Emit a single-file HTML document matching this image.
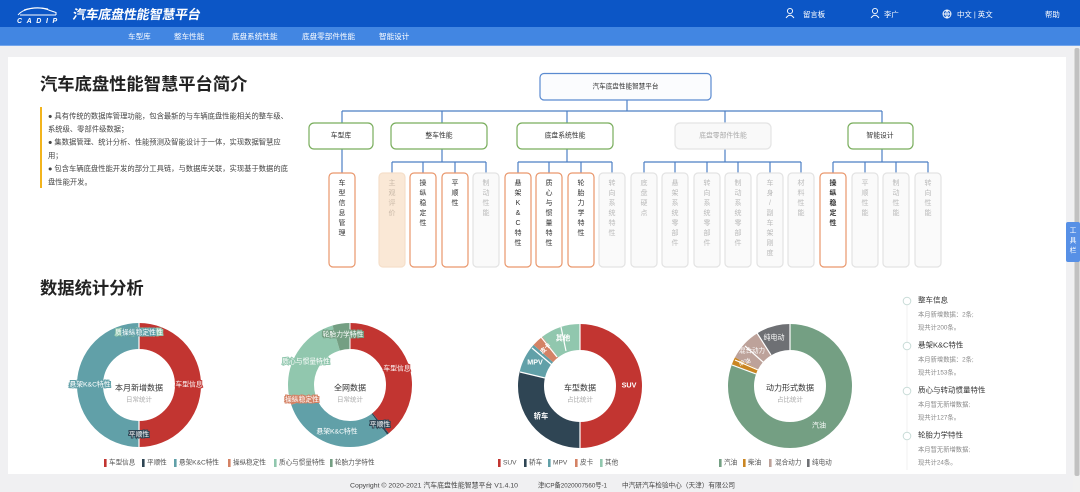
<!DOCTYPE html>
<html><head><meta charset="utf-8">
<style>
html,body{margin:0;padding:0;width:1080px;height:492px;overflow:hidden;background:#f0f0f2;}
svg{display:block;font-family:"Liberation Sans","Noto Sans CJK SC",sans-serif;}
</style></head>
<body>
<svg width="1080" height="492" viewBox="0 0 1080 492" xmlns="http://www.w3.org/2000/svg">
<!-- backgrounds -->
<rect x="0" y="0" width="1080" height="492" fill="#f0f0f2"/>
<rect x="0" y="0" width="1080" height="27" fill="#0c56c6"/>
<rect x="0" y="27" width="1080" height="19" fill="#4286e2"/>
<rect x="0" y="45" width="1080" height="1" fill="#74a6ec"/>
<rect x="8" y="57" width="1058" height="417" fill="#ffffff"/>
<rect x="1073" y="46" width="7" height="446" fill="#f1f1f1"/>
<rect x="1074.5" y="48" width="5" height="428" rx="2" fill="#c1c1c1"/>

<!-- header logo -->
<g stroke="#fff" fill="none" stroke-width="1">
<path d="M18 15 Q22 10 31 8.5 Q42 7 50 10.5 L56 12.5 L56 15"/>
<path d="M24 10 Q36 6 48 9"/>
<path d="M20 15 L56 15"/>
</g>
<text x="17" y="23" fill="#fff" font-size="7" font-weight="bold" font-style="italic" letter-spacing="4.6">CADIP</text>
<text x="72" y="19" fill="#fff" font-size="13" font-weight="bold" transform="skewX(-10) translate(3.4 0)" textLength="128">汽车底盘性能智慧平台</text>

<!-- nav -->
<g fill="#fff" font-size="7.6" dominant-baseline="central">
<text x="128" y="36.5">车型库</text>
<text x="174" y="36.5">整车性能</text>
<text x="232" y="36.5">底盘系统性能</text>
<text x="302" y="36.5">底盘零部件性能</text>
<text x="379" y="36.5">智能设计</text>
</g>

<!-- header right -->
<g stroke="#fff" fill="none" stroke-width="0.9">
<circle cx="790" cy="11" r="2.6"/><path d="M786 18 Q790 12.5 794 18"/>
<circle cx="875" cy="11" r="2.6"/><path d="M871 18 Q875 12.5 879 18"/>
<circle cx="947" cy="14" r="4"/><path d="M943 14 H951 M947 10 Q944.5 14 947 18 Q949.5 14 947 10"/>
</g>
<g fill="#fff" font-size="7.4" dominant-baseline="central">
<text x="803" y="14.5">留言板</text>
<text x="884" y="14.5">李广</text>
<text x="957" y="14.5">中文 | 英文</text>
<text x="1045" y="14.5">帮助</text>
</g>

<!-- intro -->
<text x="40" y="84" font-size="17.3" font-weight="bold" fill="#222" dominant-baseline="central">汽车底盘性能智慧平台简介</text>
<rect x="40" y="107" width="2" height="81" fill="#f2b41d"/>
<g font-size="7.3" fill="#444" dominant-baseline="central">
<text x="48" y="116">● 具有传统的数据库管理功能，包含最新的与车辆底盘性能相关的整车级、</text>
<text x="48" y="129">系统级、零部件级数据；</text>
<text x="48" y="142.2">● 集数据管理、统计分析、性能预测及智能设计于一体，实现数据智慧应</text>
<text x="48" y="155.4">用；</text>
<text x="48" y="168.6">● 包含车辆底盘性能开发的部分工具链，与数据库关联，实现基于数据的底</text>
<text x="48" y="181.8">盘性能开发。</text>
</g>

<!-- tree lines -->
<g stroke="#4c7fc4" stroke-width="1.2" fill="none">
<path d="M627 100 V111 M342 111 H882 M342 111 V123 M442 111 V123 M567 111 V123 M725 111 V123 M882 111 V123"/>
<path d="M342 149 V173"/>
<path d="M442 149 V162 M392 162 H486 M392 162 V173 M423 162 V173 M455 162 V173 M486 162 V173"/>
<path d="M567 149 V162 M518 162 H612 M518 162 V173 M549 162 V173 M581 162 V173 M612 162 V173"/>
<path d="M725 149 V162 M644 162 H801 M644 162 V173 M675 162 V173 M707 162 V173 M738 162 V173 M770 162 V173 M801 162 V173"/>
<path d="M882 149 V162 M833 162 H928 M833 162 V173 M865 162 V173 M896 162 V173 M928 162 V173"/>
</g>
<!-- root -->
<rect x="540" y="73.5" width="171" height="26.5" rx="4" fill="#fbfcfe" stroke="#5a8ad0" stroke-width="1.2"/>
<text x="625.5" y="87" font-size="6.6" fill="#333" text-anchor="middle" dominant-baseline="central">汽车底盘性能智慧平台</text>
<!-- level 2 -->
<g stroke-width="1.2">
<rect x="309" y="123" width="64" height="26" rx="5" fill="#fff" stroke="#79ad5c"/>
<rect x="391" y="123" width="96" height="26" rx="5" fill="#fff" stroke="#79ad5c"/>
<rect x="517" y="123" width="96" height="26" rx="5" fill="#fff" stroke="#79ad5c"/>
<rect x="675" y="123" width="96" height="26" rx="5" fill="#f9f9f9" stroke="#e4e4e4"/>
<rect x="848" y="123" width="65" height="26" rx="5" fill="#fff" stroke="#79ad5c"/>
</g>
<g font-size="6.8" text-anchor="middle" dominant-baseline="central" fill="#333">
<text x="341" y="136">车型库</text>
<text x="439" y="136">整车性能</text>
<text x="565" y="136">底盘系统性能</text>
<text x="723" y="136" fill="#aaa">底盘零部件性能</text>
<text x="880" y="136">智能设计</text>
</g>
<!-- level 3 boxes -->
<g stroke-width="1.2">
<rect x="329" y="173" width="26" height="94" rx="4" fill="#fff" stroke="#e9976c"/>
<rect x="379" y="173" width="26" height="94" rx="4" fill="#fae8d6" stroke="#f5dfca"/>
<rect x="410" y="173" width="26" height="94" rx="4" fill="#fff" stroke="#e9976c"/>
<rect x="442" y="173" width="26" height="94" rx="4" fill="#fff" stroke="#e9976c"/>
<rect x="473" y="173" width="26" height="94" rx="4" fill="#fafafa" stroke="#e3e3e3"/>
<rect x="505" y="173" width="26" height="94" rx="4" fill="#fff" stroke="#e9976c"/>
<rect x="536" y="173" width="26" height="94" rx="4" fill="#fff" stroke="#e9976c"/>
<rect x="568" y="173" width="26" height="94" rx="4" fill="#fff" stroke="#e9976c"/>
<rect x="599" y="173" width="26" height="94" rx="4" fill="#fafafa" stroke="#e3e3e3"/>
<rect x="631" y="173" width="26" height="94" rx="4" fill="#fafafa" stroke="#e3e3e3"/>
<rect x="662" y="173" width="26" height="94" rx="4" fill="#fafafa" stroke="#e3e3e3"/>
<rect x="694" y="173" width="26" height="94" rx="4" fill="#fafafa" stroke="#e3e3e3"/>
<rect x="725" y="173" width="26" height="94" rx="4" fill="#fafafa" stroke="#e3e3e3"/>
<rect x="757" y="173" width="26" height="94" rx="4" fill="#fafafa" stroke="#e3e3e3"/>
<rect x="788" y="173" width="26" height="94" rx="4" fill="#fafafa" stroke="#e3e3e3"/>
<rect x="820" y="173" width="26" height="94" rx="4" fill="#fff" stroke="#e9976c"/>
<rect x="852" y="173" width="26" height="94" rx="4" fill="#fafafa" stroke="#e3e3e3"/>
<rect x="883" y="173" width="26" height="94" rx="4" fill="#fafafa" stroke="#e3e3e3"/>
<rect x="915" y="173" width="26" height="94" rx="4" fill="#fafafa" stroke="#e3e3e3"/>
</g>
<g font-size="7" text-anchor="middle" dominant-baseline="central">
<text fill="#333"><tspan x="342" y="183">车</tspan><tspan x="342" dy="10">型</tspan><tspan x="342" dy="10">信</tspan><tspan x="342" dy="10">息</tspan><tspan x="342" dy="10">管</tspan><tspan x="342" dy="10">理</tspan></text>
<text fill="#c9b9a8"><tspan x="392" y="183">主</tspan><tspan x="392" dy="10">观</tspan><tspan x="392" dy="10">评</tspan><tspan x="392" dy="10">价</tspan></text>
<text fill="#333"><tspan x="423" y="183">操</tspan><tspan x="423" dy="10">纵</tspan><tspan x="423" dy="10">稳</tspan><tspan x="423" dy="10">定</tspan><tspan x="423" dy="10">性</tspan></text>
<text fill="#333"><tspan x="455" y="183">平</tspan><tspan x="455" dy="10">顺</tspan><tspan x="455" dy="10">性</tspan></text>
<text fill="#bbb"><tspan x="486" y="183">制</tspan><tspan x="486" dy="10">动</tspan><tspan x="486" dy="10">性</tspan><tspan x="486" dy="10">能</tspan></text>
<text fill="#333"><tspan x="518" y="183">悬</tspan><tspan x="518" dy="10">架</tspan><tspan x="518" dy="10">K</tspan><tspan x="518" dy="10">&amp;</tspan><tspan x="518" dy="10">C</tspan><tspan x="518" dy="10">特</tspan><tspan x="518" dy="10">性</tspan></text>
<text fill="#333"><tspan x="549" y="183">质</tspan><tspan x="549" dy="10">心</tspan><tspan x="549" dy="10">与</tspan><tspan x="549" dy="10">惯</tspan><tspan x="549" dy="10">量</tspan><tspan x="549" dy="10">特</tspan><tspan x="549" dy="10">性</tspan></text>
<text fill="#333"><tspan x="581" y="183">轮</tspan><tspan x="581" dy="10">胎</tspan><tspan x="581" dy="10">力</tspan><tspan x="581" dy="10">学</tspan><tspan x="581" dy="10">特</tspan><tspan x="581" dy="10">性</tspan></text>
<text fill="#bbb"><tspan x="612" y="183">转</tspan><tspan x="612" dy="10">向</tspan><tspan x="612" dy="10">系</tspan><tspan x="612" dy="10">统</tspan><tspan x="612" dy="10">特</tspan><tspan x="612" dy="10">性</tspan></text>
<text fill="#bbb"><tspan x="644" y="183">底</tspan><tspan x="644" dy="10">盘</tspan><tspan x="644" dy="10">硬</tspan><tspan x="644" dy="10">点</tspan></text>
<text fill="#bbb"><tspan x="675" y="183">悬</tspan><tspan x="675" dy="10">架</tspan><tspan x="675" dy="10">系</tspan><tspan x="675" dy="10">统</tspan><tspan x="675" dy="10">零</tspan><tspan x="675" dy="10">部</tspan><tspan x="675" dy="10">件</tspan></text>
<text fill="#bbb"><tspan x="707" y="183">转</tspan><tspan x="707" dy="10">向</tspan><tspan x="707" dy="10">系</tspan><tspan x="707" dy="10">统</tspan><tspan x="707" dy="10">零</tspan><tspan x="707" dy="10">部</tspan><tspan x="707" dy="10">件</tspan></text>
<text fill="#bbb"><tspan x="738" y="183">制</tspan><tspan x="738" dy="10">动</tspan><tspan x="738" dy="10">系</tspan><tspan x="738" dy="10">统</tspan><tspan x="738" dy="10">零</tspan><tspan x="738" dy="10">部</tspan><tspan x="738" dy="10">件</tspan></text>
<text fill="#bbb"><tspan x="770" y="183">车</tspan><tspan x="770" dy="10">身</tspan><tspan x="770" dy="10">/</tspan><tspan x="770" dy="10">副</tspan><tspan x="770" dy="10">车</tspan><tspan x="770" dy="10">架</tspan><tspan x="770" dy="10">刚</tspan><tspan x="770" dy="10">度</tspan></text>
<text fill="#bbb"><tspan x="801" y="183">材</tspan><tspan x="801" dy="10">料</tspan><tspan x="801" dy="10">性</tspan><tspan x="801" dy="10">能</tspan></text>
<text fill="#333" font-weight="bold"><tspan x="833" y="183">操</tspan><tspan x="833" dy="10">纵</tspan><tspan x="833" dy="10">稳</tspan><tspan x="833" dy="10">定</tspan><tspan x="833" dy="10">性</tspan></text>
<text fill="#bbb"><tspan x="865" y="183">平</tspan><tspan x="865" dy="10">顺</tspan><tspan x="865" dy="10">性</tspan><tspan x="865" dy="10">能</tspan></text>
<text fill="#bbb"><tspan x="896" y="183">制</tspan><tspan x="896" dy="10">动</tspan><tspan x="896" dy="10">性</tspan><tspan x="896" dy="10">能</tspan></text>
<text fill="#bbb"><tspan x="928" y="183">转</tspan><tspan x="928" dy="10">向</tspan><tspan x="928" dy="10">性</tspan><tspan x="928" dy="10">能</tspan></text>
</g>

<!-- section title -->
<text x="40" y="288" font-size="17.3" font-weight="bold" fill="#222" dominant-baseline="central">数据统计分析</text>

<!-- chart 1 -->
<g transform="rotate(-90 139 385)" fill="none" stroke-width="26">
<circle cx="139" cy="385" r="49" stroke="#c23531" stroke-dasharray="153.94 307.88"/>
<circle cx="139" cy="385" r="49" stroke="#61a0a8" stroke-dasharray="153.94 307.88" stroke-dashoffset="-153.94"/>
</g>
<g stroke="#fff" stroke-width="1.2"><path d="M139 323 V349 M139 421 V447"/></g>
<g font-size="6.8" text-anchor="middle" dominant-baseline="central" fill="#fff" stroke-width="2" paint-order="stroke">
<text x="189" y="385" stroke="#c23531">车型信息</text>
<text x="90" y="385" stroke="#61a0a8">悬架K&amp;C特性</text>
<text x="139" y="435" stroke="#2f4554">平顺性</text>
<text x="139" y="333" stroke="#749f83">轮胎力学特性</text>
<text x="139" y="333" stroke="#91c7ae">质心与惯量特性</text>
<text x="139" y="333" stroke="#61a0a8">操纵稳定性</text>
</g>
<text x="139" y="388" font-size="8" fill="#333" text-anchor="middle" dominant-baseline="central">本月新增数据</text>
<text x="139" y="400" font-size="6.5" fill="#aaa" text-anchor="middle" dominant-baseline="central">日常统计</text>

<!-- chart 2 -->
<g transform="rotate(-90 350 385)" fill="none" stroke-width="26">
<circle cx="350" cy="385" r="49" stroke="#c23531" stroke-dasharray="120.58 307.88"/>
<circle cx="350" cy="385" r="49" stroke="#2f4554" stroke-dasharray="1.71 307.88" stroke-dashoffset="-120.58"/>
<circle cx="350" cy="385" r="49" stroke="#61a0a8" stroke-dasharray="92.36 307.88" stroke-dashoffset="-122.30"/>
<circle cx="350" cy="385" r="49" stroke="#d48265" stroke-dasharray="1.71 307.88" stroke-dashoffset="-214.66"/>
<circle cx="350" cy="385" r="49" stroke="#91c7ae" stroke-dasharray="76.97 307.88" stroke-dashoffset="-216.37"/>
<circle cx="350" cy="385" r="49" stroke="#749f83" stroke-dasharray="14.54 307.88" stroke-dashoffset="-293.34"/>
</g>
<g stroke="#fff" stroke-width="1"><path d="M350 323 V349"/></g>
<g font-size="6.8" text-anchor="middle" dominant-baseline="central" fill="#fff" stroke-width="2" paint-order="stroke">
<text x="397" y="369" stroke="#c23531">车型信息</text>
<text x="380" y="425" stroke="#2f4554">平顺性</text>
<text x="337" y="432" stroke="#61a0a8">悬架K&amp;C特性</text>
<text x="302" y="400" stroke="#d48265">操纵稳定性</text>
<text x="306" y="362" stroke="#91c7ae">质心与惯量特性</text>
<text x="343" y="335" stroke="#749f83">轮胎力学特性</text>
</g>
<text x="350" y="388" font-size="8" fill="#333" text-anchor="middle" dominant-baseline="central">全网数据</text>
<text x="350" y="400" font-size="6.5" fill="#aaa" text-anchor="middle" dominant-baseline="central">日常统计</text>

<!-- chart 3 -->
<g transform="rotate(-90 580 386)" fill="none" stroke-width="26">
<circle cx="580" cy="386" r="49" stroke="#c23531" stroke-dasharray="153.94 307.88"/>
<circle cx="580" cy="386" r="49" stroke="#2f4554" stroke-dasharray="88.09 307.88" stroke-dashoffset="-153.94"/>
<circle cx="580" cy="386" r="49" stroke="#61a0a8" stroke-dasharray="23.95 307.88" stroke-dashoffset="-242.03"/>
<circle cx="580" cy="386" r="49" stroke="#d48265" stroke-dasharray="9.41 307.88" stroke-dashoffset="-265.98"/>
<circle cx="580" cy="386" r="49" stroke="#91c7ae" stroke-dasharray="32.50 307.88" stroke-dashoffset="-275.39"/>
</g>
<g stroke="#fff" stroke-width="1.2"><path d="M580 324 V350 M580 422 V448 M545 378 L520 372 M552 365 L532 348 M557 357 L541 337 M566 351 L561 327"/></g>
<g font-size="7.2" font-weight="bold" text-anchor="middle" dominant-baseline="central" fill="#fff">
<text x="629" y="385">SUV</text>
<text x="541" y="416">轿车</text>
<text x="535" y="362">MPV</text>
<text x="546" y="349" transform="rotate(-45 546 349)" font-size="6">皮卡</text>
<text x="563" y="338">其他</text>
</g>
<text x="580" y="388" font-size="8" fill="#333" text-anchor="middle" dominant-baseline="central">车型数据</text>
<text x="580" y="400" font-size="6.5" fill="#aaa" text-anchor="middle" dominant-baseline="central">占比统计</text>

<!-- chart 4 -->
<g transform="rotate(-90 790 386)" fill="none" stroke-width="26">
<circle cx="790" cy="386" r="49" stroke="#749f83" stroke-dasharray="248.01 307.88"/>
<circle cx="790" cy="386" r="49" stroke="#ca8622" stroke-dasharray="5.99 307.88" stroke-dashoffset="-248.01"/>
<circle cx="790" cy="386" r="49" stroke="#bda29a" stroke-dasharray="26.51 307.88" stroke-dashoffset="-254.00"/>
<circle cx="790" cy="386" r="49" stroke="#6e7074" stroke-dasharray="27.37 307.88" stroke-dashoffset="-280.51"/>
</g>
<g stroke="#fff" stroke-width="1.2"><path d="M790 324 V350 M756 374 L732 365 M758 370 L735 360 M764 363 L745 346 M771 355 L757 333"/></g>
<g font-size="7" text-anchor="middle" dominant-baseline="central" fill="#fff">
<text x="819" y="426">汽油</text>
<text x="745" y="363" font-size="6" transform="rotate(-20 745 363)">柴油</text>
<text x="752" y="351" font-size="6.5">混合动力</text>
<text x="774" y="338">纯电动</text>
</g>
<text x="790" y="388" font-size="8" fill="#333" text-anchor="middle" dominant-baseline="central">动力形式数据</text>
<text x="790" y="400" font-size="6.5" fill="#aaa" text-anchor="middle" dominant-baseline="central">占比统计</text>

<!-- legends -->
<g>
<rect x="104" y="459" width="2.6" height="8" fill="#c23531"/>
<rect x="142" y="459" width="2.6" height="8" fill="#2f4554"/>
<rect x="174" y="459" width="2.6" height="8" fill="#61a0a8"/>
<rect x="228" y="459" width="2.6" height="8" fill="#d48265"/>
<rect x="274" y="459" width="2.6" height="8" fill="#91c7ae"/>
<rect x="330" y="459" width="2.6" height="8" fill="#749f83"/>
<rect x="498" y="459" width="2.6" height="8" fill="#c23531"/>
<rect x="524" y="459" width="2.6" height="8" fill="#2f4554"/>
<rect x="548" y="459" width="2.6" height="8" fill="#61a0a8"/>
<rect x="575" y="459" width="2.6" height="8" fill="#d48265"/>
<rect x="600" y="459" width="2.6" height="8" fill="#91c7ae"/>
<rect x="719" y="459" width="2.6" height="8" fill="#749f83"/>
<rect x="743" y="459" width="2.6" height="8" fill="#ca8622"/>
<rect x="769" y="459" width="2.6" height="8" fill="#bda29a"/>
<rect x="807" y="459" width="2.6" height="8" fill="#6e7074"/>
</g>
<g font-size="6.6" fill="#555" dominant-baseline="central">
<text x="109" y="463">车型信息</text>
<text x="147" y="463">平顺性</text>
<text x="179" y="463">悬架K&amp;C特性</text>
<text x="233" y="463">操纵稳定性</text>
<text x="279" y="463">质心与惯量特性</text>
<text x="335" y="463">轮胎力学特性</text>
<text x="503" y="463">SUV</text>
<text x="529" y="463">轿车</text>
<text x="553" y="463">MPV</text>
<text x="580" y="463">皮卡</text>
<text x="605" y="463">其他</text>
<text x="724" y="463">汽油</text>
<text x="748" y="463">柴油</text>
<text x="775" y="463">混合动力</text>
<text x="812" y="463">纯电动</text>
</g>

<!-- timeline -->
<path d="M907 305 V470" stroke="#f0f0f0" stroke-width="1"/>
<g fill="#fff" stroke="#c9dcd8" stroke-width="1">
<circle cx="907" cy="301" r="3.8"/>
<circle cx="907" cy="346" r="3.8"/>
<circle cx="907" cy="391" r="3.8"/>
<circle cx="907" cy="436" r="3.8"/>
</g>
<g font-size="7.5" fill="#333" dominant-baseline="central">
<text x="918" y="300">整车信息</text>
<text x="918" y="345">悬架K&amp;C特性</text>
<text x="918" y="390">质心与转动惯量特性</text>
<text x="918" y="435">轮胎力学特性</text>
</g>
<g font-size="6.3" fill="#888" dominant-baseline="central">
<text x="918" y="315">本月新增数据：2条;</text>
<text x="918" y="328">现共计200条。</text>
<text x="918" y="360">本月新增数据：2条;</text>
<text x="918" y="373">现共计153条。</text>
<text x="918" y="405">本月暂无新增数据;</text>
<text x="918" y="418">现共计127条。</text>
<text x="918" y="450">本月暂无新增数据;</text>
<text x="918" y="463">现共计24条。</text>
</g>

<!-- toolbar tab -->
<rect x="1066" y="222" width="14" height="40" rx="2" fill="#5790e6"/>
<g font-size="6.8" fill="#fff" text-anchor="middle" dominant-baseline="central">
<text x="1073" y="231">工</text><text x="1073" y="241">具</text><text x="1073" y="251">栏</text>
</g>

<!-- footer -->
<g font-size="6.8" fill="#444" dominant-baseline="central">
<text x="350" y="486" textLength="168" lengthAdjust="spacingAndGlyphs">Copyright © 2020-2021 汽车底盘性能智慧平台 V1.4.10</text>
<text x="538" y="486" textLength="69" lengthAdjust="spacingAndGlyphs">津ICP备2020007560号-1</text>
<text x="622" y="486" textLength="113" lengthAdjust="spacingAndGlyphs">中汽研汽车检验中心（天津）有限公司</text>
</g>
</svg>
</body></html>
